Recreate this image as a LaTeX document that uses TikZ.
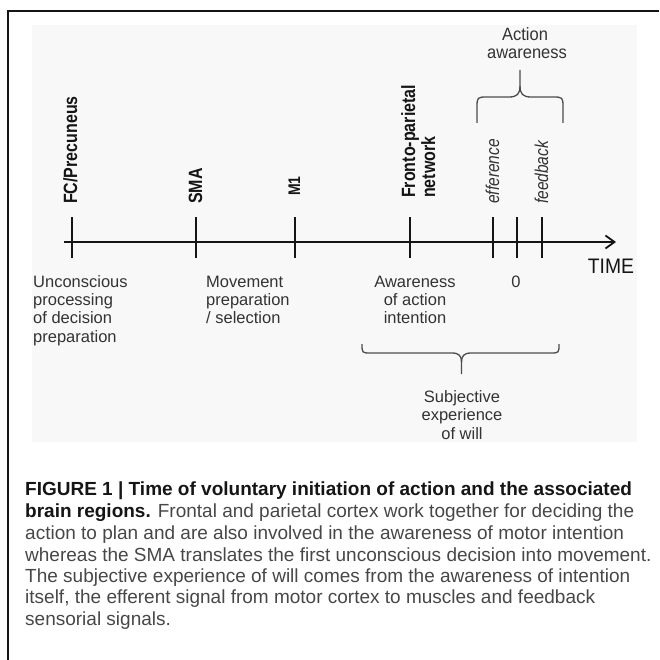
\documentclass[tikz,border=0pt]{standalone}
\usepackage{fontspec}
\setmainfont{Liberation Sans}
\usetikzlibrary{arrows.meta}
\definecolor{txt}{HTML}{333333}
\definecolor{captxt}{HTML}{474747}
\definecolor{ink}{HTML}{151515}
\definecolor{bg}{HTML}{F8F8F8}
\tikzset{
  region/.style={font=\fontsize{16}{19}\selectfont\bfseries, text=ink, rotate=90, yscale=1.2, anchor=base west, inner sep=0pt},
  phase/.style={font=\fontsize{15.5}{19}\selectfont\itshape, text=txt, rotate=90, yscale=1.2, anchor=base west, inner sep=0pt},
  lbl/.style={font=\fontsize{16.5}{19}\selectfont, text=txt, inner sep=0pt},
  tickmark/.style={line width=2pt, draw=ink},
  axisline/.style={line width=2pt, draw=ink, -{Straight Barb[length=9pt,width=13pt,line width=1.8pt]}},
  bracepath/.style={line width=1.3pt, draw=black!70, line join=round},
  captionline/.style={font=\fontsize{19}{22}\selectfont, text=captxt, anchor=base west, inner sep=0pt},
}
\begin{document}
\begin{tikzpicture}[x=1pt,y=-1pt]
\useasboundingbox (0,0) rectangle (659,660);
% frame
\draw[line width=2pt, draw=ink] (659,11) -- (8,11) -- (8,660);
% diagram background
\fill[bg] (32,25) rectangle (637,442);
% axis
\coordinate (a0) at (64,242);
\coordinate (a1) at (616,242);
\draw[axisline] (a0) -- (a1);
% ticks
\foreach \n/\x in {fc/72,sma/196,m1/295,fp/410,ef/493,zero/517,fb/542}{
  \coordinate (\n top) at (\x,217);
  \coordinate (\n bot) at (\x,258);
  \draw[tickmark] (\n top) -- (\n bot);
}
% region labels
\node[region] (lfc) at (77,204) {FC/Precuneus};
\node[region] (lsma) at (202,204) {SMA};
\node[region, font=\fontsize{14}{16}\selectfont\bfseries] (lm1) at (300,196) {M1};
\node[region] (lfp1) at (415,198) {Fronto-parietal};
\node[region] (lfp2) at (435,198) {network};
\node[phase] (lef) at (499,204) {efference};
\node[phase] (lfb) at (548,204) {feedback};
% TIME
\node[font=\fontsize{21}{24}\selectfont, text=ink, anchor=base, inner sep=0pt, xscale=0.92] (time) at (611,273) {TIME};
% lower labels
\node[lbl, anchor=base west] (u1) at (33,287) {Unconscious};
\node[lbl, anchor=base west] (u2) at (33,305) {processing};
\node[lbl, anchor=base west] (u3) at (33,323) {of decision};
\node[lbl, anchor=base west] (u4) at (33,342) {preparation};
\node[lbl, anchor=base west] (m1l) at (206,287) {Movement};
\node[lbl, anchor=base west] (m2l) at (206,305) {preparation};
\node[lbl, anchor=base west] (m3l) at (206,323) {/ selection};
\node[lbl, anchor=base] (w1) at (415,287) {Awareness};
\node[lbl, anchor=base] (w2) at (415,305) {of action};
\node[lbl, anchor=base] (w3) at (415,323) {intention};
\node[lbl, anchor=base] (z0) at (516,287) {0};
% action awareness
\node[lbl, anchor=base, yscale=1.08] (aa1) at (525,41) {Action};
\node[lbl, anchor=base, yscale=1.08] (aa2) at (527,59) {awareness};
% upper brace
\coordinate (ubl) at (477,123);
\coordinate (ubr) at (563,123);
\coordinate (ubt) at (520,70);
\draw[bracepath] (ubl) -- (477,108) .. controls (477,97) .. (488,97) -- (509,97)
   .. controls (517,97) and (520,94) .. (520,86) -- (ubt);
\draw[bracepath] (ubr) -- (563,108) .. controls (563,97) .. (552,97) -- (531,97)
   .. controls (523,97) and (520,94) .. (520,86);
% lower brace
\coordinate (lbl) at (362,344);
\coordinate (lbr) at (559,344);
\coordinate (lbt) at (461.5,374);
\draw[bracepath] (lbl) .. controls (362,353) .. (371,353) -- (452,353)
   .. controls (459,353) and (461.5,356) .. (461.5,362) -- (lbt);
\draw[bracepath] (lbr) .. controls (559,353) .. (550,353) -- (471,353)
   .. controls (464,353) and (461.5,356) .. (461.5,362);
% subjective experience
\node[lbl, anchor=base] (s1) at (462,402) {Subjective};
\node[lbl, anchor=base] (s2) at (462,420) {experience};
\node[lbl, anchor=base] (s3) at (462,439) {of will};
% caption
\node[captionline] (c1) at (25,495) {\textbf{\color{ink}FIGURE 1 | Time of voluntary initiation of action and the associated}};
\node[captionline] (c2) at (25,517) {\textbf{\color{ink}brain regions.} Frontal and parietal cortex work together for deciding the};
\node[captionline] (c3) at (25,539) {action to plan and are also involved in the awareness of motor intention};
\node[captionline] (c4) at (25,561) {whereas the SMA translates the first unconscious decision into movement.};
\node[captionline] (c5) at (25,582) {The subjective experience of will comes from the awareness of intention};
\node[captionline] (c6) at (25,603) {itself, the efferent signal from motor cortex to muscles and feedback};
\node[captionline] (c7) at (25,625) {sensorial signals.};
\end{tikzpicture}
\end{document}
